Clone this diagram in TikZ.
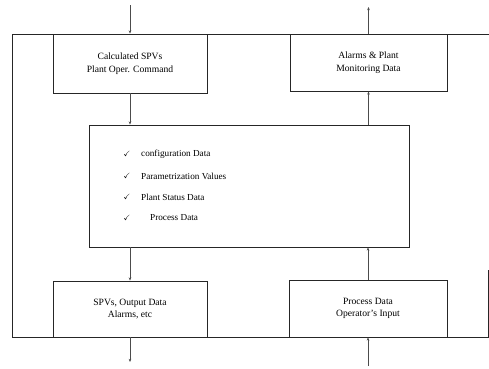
\documentclass[tikz,border=0pt]{standalone}
\usepackage{fontspec}
\setmainfont{Liberation Serif}
\usepackage{amssymb}
\usetikzlibrary{arrows.meta}
\begin{document}
\begin{tikzpicture}[x=1pt,y=1pt,
  frameline/.style={draw=black!85, line width=0.9pt},
  blockbox/.style={draw=black!85, line width=0.9pt, rectangle, align=center,
    font=\fontsize{9.6}{12.5}\selectfont, inner sep=0pt},
  arr/.style={draw=black!70, line width=0.6pt, -{Stealth[length=3.2pt,width=2.6pt]}},
  itemtext/.style={anchor=west, font=\fontsize{9.2}{11}\selectfont, inner sep=0pt},
  tick/.style={font=\fontsize{7.5}{8}\selectfont, inner sep=0pt}]
\useasboundingbox (0,0) rectangle (489,368);

% outer frame
\draw[frameline] (489,334) -- (12,334) -- (12,31) -- (488,31) -- (488,98);

% blocks
\node[blockbox, minimum width=154, minimum height=59] (tl) at (130,304.5)
  {Calculated SPVs\\Plant Oper. Command};
\node[blockbox, minimum width=157, minimum height=57] (tr) at (368.5,305.5)
  {Alarms \& Plant\\Monitoring Data};
\node[blockbox, minimum width=320, minimum height=122] (mid) at (249,182) {};
\node[blockbox, minimum width=154, minimum height=56] (bl) at (130,59)
  {SPVs, Output Data\\Alarms, etc};
\node[blockbox, minimum width=158, minimum height=57] (br) at (368,59.5)
  {Process Data\\Operator's Input};

% list inside the central block
\node[tick] (c1) at (127,214) {$\checkmark$};
\node[tick] (c2) at (127,192) {$\checkmark$};
\node[tick] (c3) at (127,171) {$\checkmark$};
\node[tick] (c4) at (127,150) {$\checkmark$};
\node[itemtext] (t1) at (141,214) {configuration Data};
\node[itemtext] (t2) at (141,192) {Parametrization Values};
\node[itemtext] (t3) at (141,171) {Plant Status Data};
\node[itemtext] (t4) at (150,150) {Process Data};

% external connections
\coordinate (inTop) at (130,363);
\coordinate (outTop) at (368.5,361);
\coordinate (outBot) at (130,6);
\coordinate (inBot) at (368,2);
\draw[arr] (inTop) -- (tl.north);
\draw[arr] (tr.north) -- (outTop);
\draw[arr] (bl.south) -- (outBot);
\draw[arr] (inBot) -- (br.south);

% internal connections
\draw[arr] (tl.south) -- (tl.south |- mid.north);
\draw[arr] (tr.south |- mid.north) -- (tr.south);
\draw[arr] (bl.north |- mid.south) -- (bl.north);
\draw[arr] (br.north) -- (br.north |- mid.south);
\end{tikzpicture}
\end{document}
